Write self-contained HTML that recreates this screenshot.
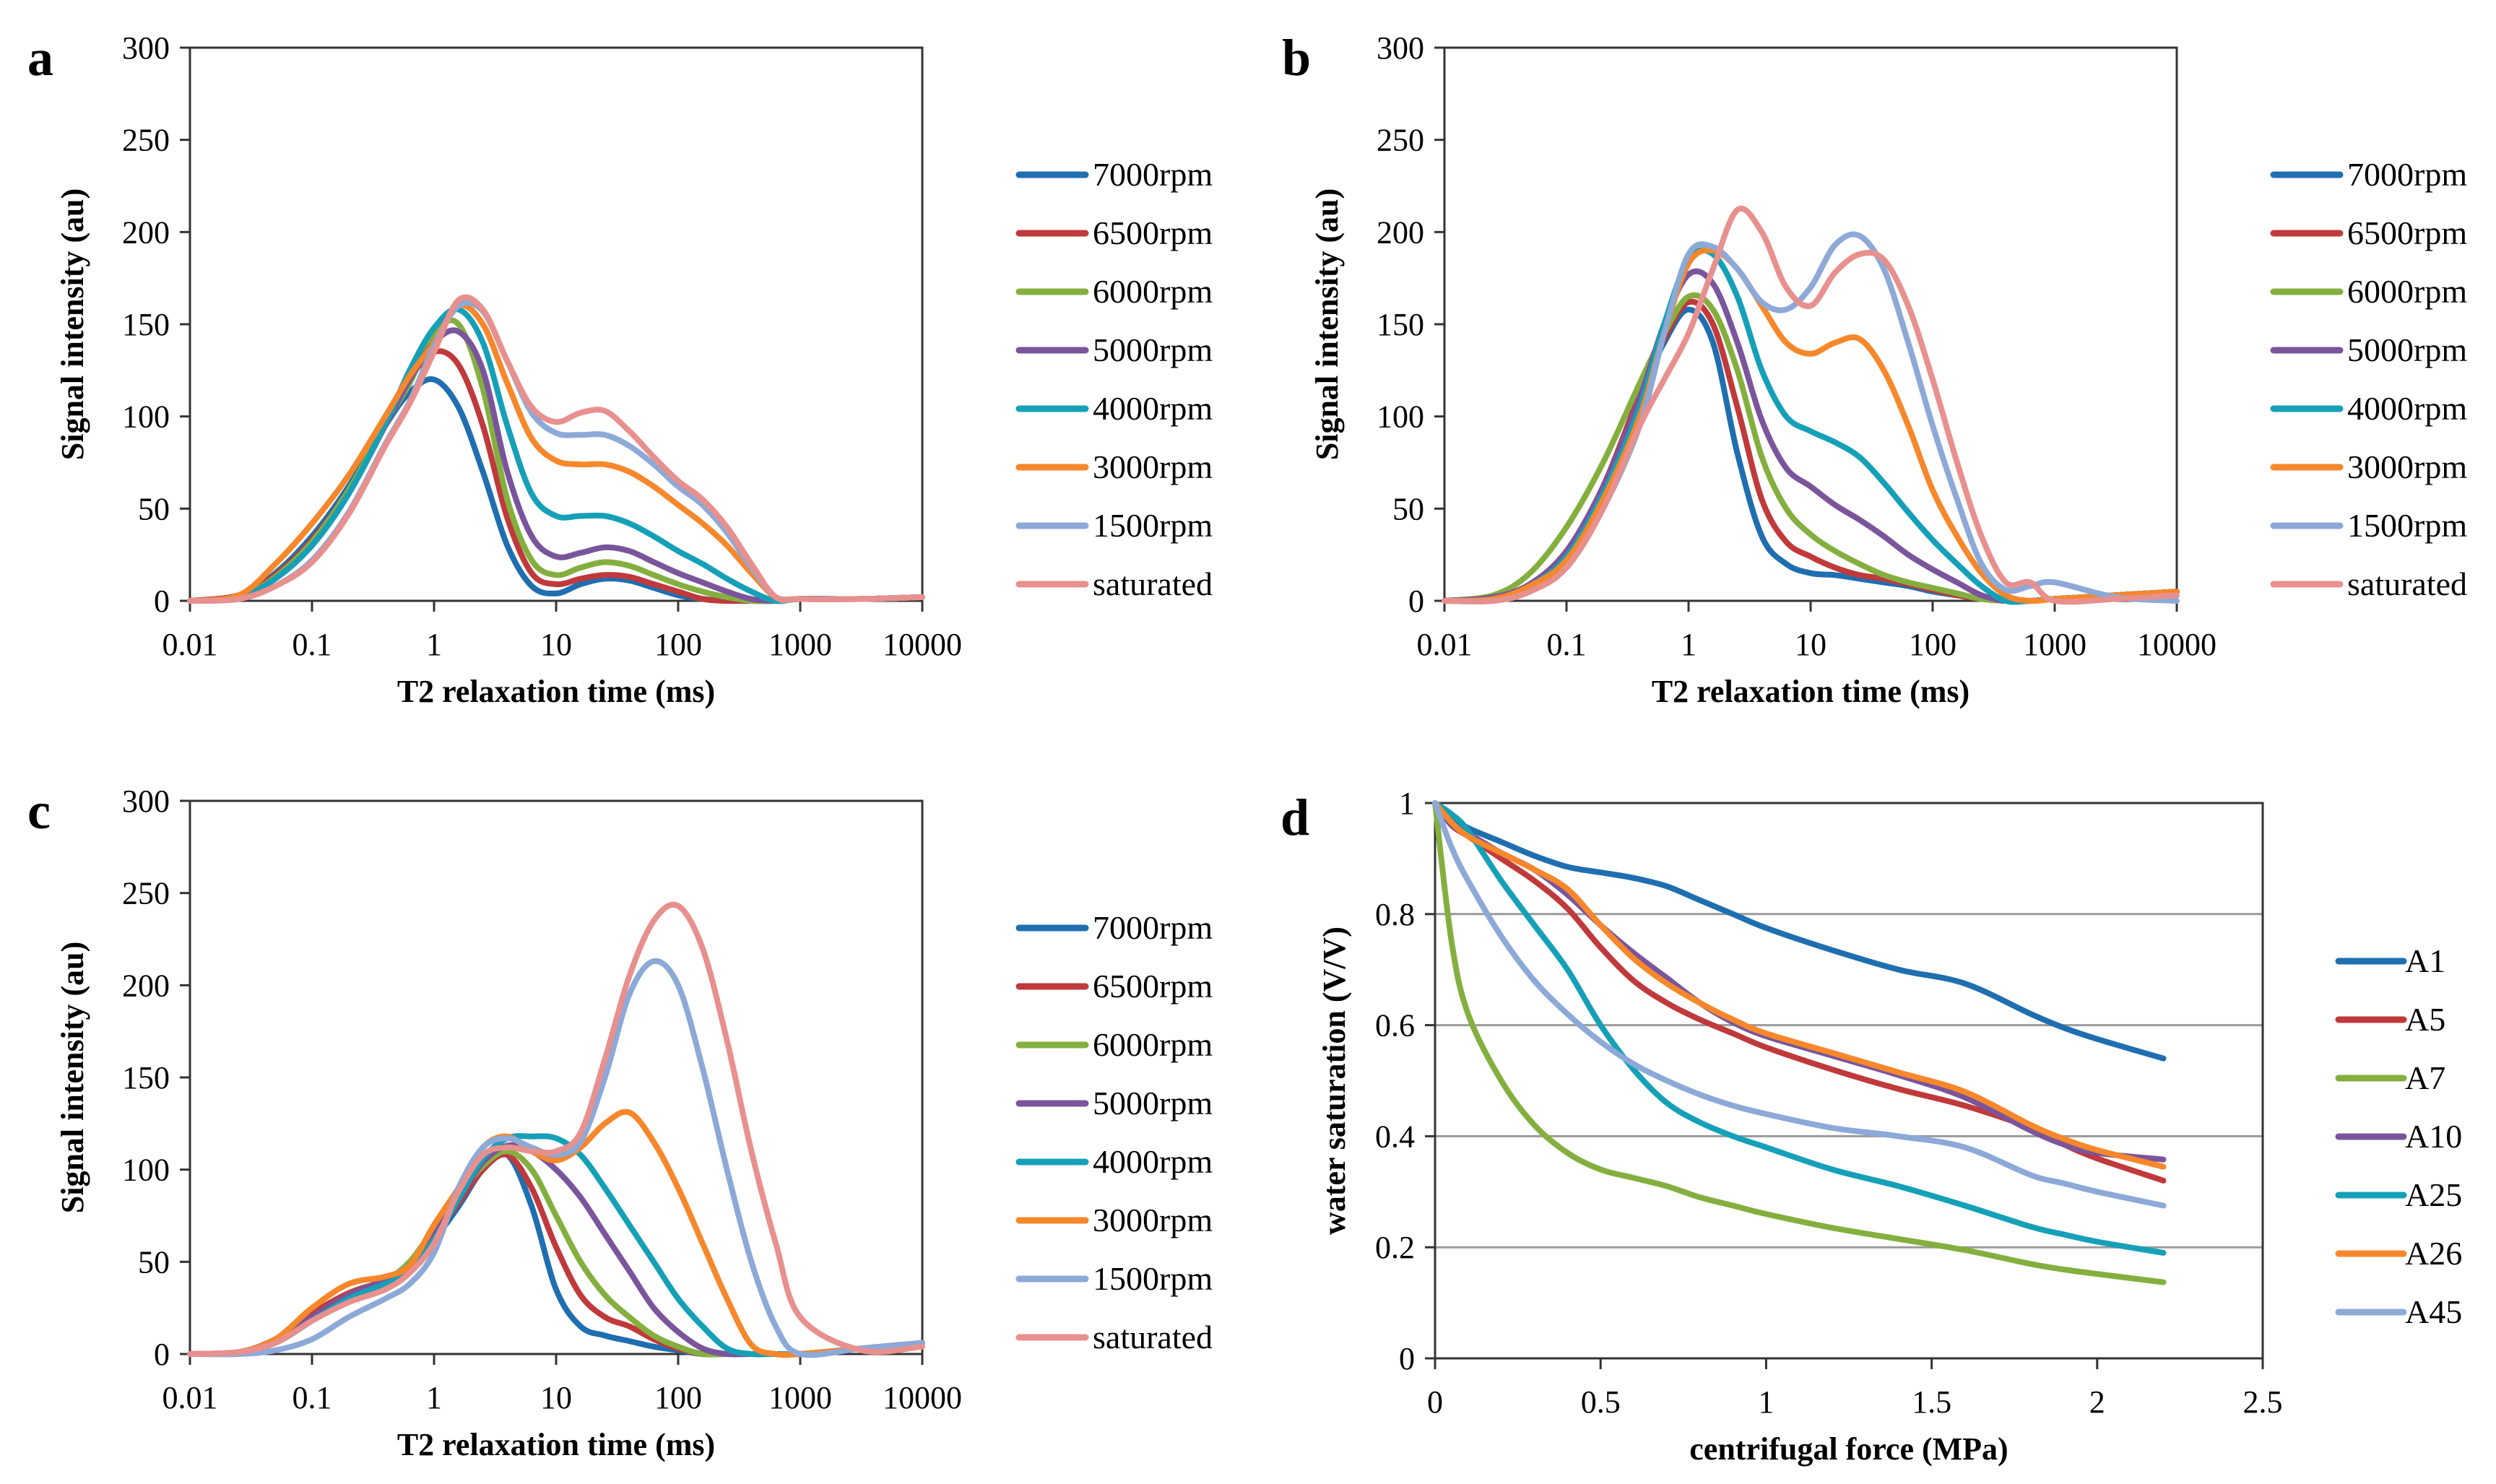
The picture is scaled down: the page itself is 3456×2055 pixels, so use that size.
<!DOCTYPE html>
<html><head><meta charset="utf-8">
<style>
html,body{margin:0;padding:0;background:#fff;}
svg{display:block;font-family:"Liberation Serif",serif;}
</style></head>
<body>
<svg id="fig" width="3456" height="2055" viewBox="0 0 3456 2055" xmlns="http://www.w3.org/2000/svg"></svg>
<script>
// ---- T2 panels data ----
const t2LogGrid = [-2,-1.6,-1.3,-1,-0.7,-0.4,-0.2,0,0.2,0.4,0.6,0.8,1,1.2,1.4,1.6,1.8,2,2.2,2.4,2.6,2.8,3,3.5,4];
const t2Series = ['7000rpm','6500rpm','6000rpm','5000rpm','4000rpm','3000rpm','1500rpm','saturated'];
const t2XTicks = ['0.01','0.1','1','10','100','1000','10000'];
const t2YTicks = [0,50,100,150,200,250,300];
const aValues = [
 [0,2,15,35,62,95,113,120,105,70,30,8,4,9,12,11,7,3,1,0,0,0,1,1,2],
 [0,3,14,33,60,95,120,135,128,95,45,15,9,12,14,13,9,5,1,0,0,0,1,1,2],
 [0,2,13,32,60,96,118,145,150,115,55,22,14,18,21,19,14,9,5,2,0,0,1,1,2],
 [0,2,12,30,58,95,120,140,146,125,70,35,24,26,29,27,21,15,10,5,1,0,1,1,2],
 [0,2,12,30,58,96,125,148,158,140,95,58,46,46,46,42,35,27,20,12,5,0,1,1,2],
 [0,3,20,42,68,100,122,140,160,150,118,88,76,74,74,70,62,52,42,30,15,2,1,1,2],
 [0,1,8,22,48,85,108,138,160,157,130,102,91,90,90,84,74,62,52,37,18,2,1,1,2],
 [0,1,8,21,47,84,107,135,163,158,130,105,97,102,103,92,78,65,55,40,20,2,1,1,2]
];
const bValues = [
 [0,2,8,25,60,110,140,158,140,80,35,20,15,14,12,10,8,5,3,1,0,0,1,3,5],
 [0,2,9,27,62,112,142,162,150,105,55,32,24,18,14,12,9,6,3,1,0,0,1,3,5],
 [0,3,15,40,75,118,145,165,158,125,78,50,36,27,20,14,10,7,4,1,0,0,1,3,5],
 [0,2,9,27,62,110,150,177,172,140,98,72,62,52,44,35,25,17,10,3,0,0,1,3,5],
 [0,1,8,24,58,105,150,185,188,165,125,100,92,86,78,64,48,33,20,8,0,0,1,3,5],
 [0,1,8,22,55,100,145,183,190,180,160,140,134,140,142,125,95,60,35,15,3,0,1,3,5],
 [0,0,5,18,50,95,145,188,192,180,162,158,170,193,198,180,140,95,55,20,6,8,10,2,0],
 [0,0,5,18,50,95,120,145,180,212,200,170,160,178,188,185,160,120,75,35,10,10,0,1,3]
];
const cValues = [
 [0,1,8,22,32,40,48,62,80,100,108,80,35,15,10,7,4,2,0,0,0,0,0,3,6],
 [0,1,8,22,33,40,48,64,82,100,108,90,58,32,20,15,8,3,0,0,0,0,0,3,6],
 [0,1,7,20,32,40,50,68,86,102,110,100,75,50,32,20,10,4,0,0,0,0,0,3,6],
 [0,1,7,20,32,40,48,65,84,104,113,110,100,85,65,45,25,12,3,0,0,0,0,3,6],
 [0,1,6,18,30,38,45,62,84,106,117,118,117,108,90,70,50,30,15,3,0,0,0,3,6],
 [0,1,8,25,38,42,48,70,90,112,118,110,105,112,125,131,115,90,60,30,5,0,0,3,6],
 [0,0,2,8,20,30,38,55,90,112,117,112,108,115,150,195,213,200,155,100,50,15,0,3,6],
 [0,1,6,18,28,35,44,60,88,108,112,110,110,120,160,205,235,243,220,170,110,60,20,2,4]
];
// ---- panel d data ----
const dForce = [0,0.05,0.1,0.2,0.3,0.4,0.5,0.6,0.7,0.8,0.9,1,1.2,1.4,1.6,1.8,1.9,2,2.2];
const dSeries = ['A1','A5','A7','A10','A25','A26','A45'];
const dValues = [
 [1,0.975,0.955,0.93,0.905,0.885,0.875,0.865,0.85,0.825,0.8,0.775,0.735,0.7,0.675,0.62,0.595,0.575,0.54],
 [1,0.96,0.94,0.9,0.86,0.81,0.74,0.68,0.64,0.61,0.585,0.56,0.52,0.485,0.455,0.415,0.385,0.36,0.32],
 [1,0.75,0.62,0.5,0.42,0.37,0.34,0.325,0.31,0.29,0.275,0.26,0.235,0.215,0.195,0.17,0.16,0.152,0.137],
 [1,0.96,0.945,0.91,0.88,0.835,0.78,0.73,0.685,0.64,0.605,0.58,0.545,0.51,0.47,0.41,0.385,0.37,0.358],
 [1,0.98,0.95,0.86,0.78,0.7,0.6,0.52,0.46,0.425,0.4,0.38,0.34,0.31,0.275,0.237,0.223,0.21,0.19],
 [1,0.965,0.94,0.91,0.88,0.845,0.78,0.72,0.675,0.64,0.61,0.585,0.55,0.515,0.48,0.42,0.395,0.375,0.345],
 [1,0.92,0.86,0.76,0.68,0.62,0.57,0.53,0.5,0.475,0.455,0.44,0.415,0.4,0.38,0.33,0.315,0.3,0.275]
];
const dXTicks = [0,0.5,1,1.5,2,2.5];
const dYTicks = [0,0.2,0.4,0.6,0.8,1];

const t2Colors = ['#1F6EB0','#C0393B','#84AF3F','#7A559C','#16A0B8','#F7872B','#8CA9D8','#E8908E'];
const dColors = ['#1F6EB0','#C0393B','#84AF3F','#7A559C','#16A0B8','#F7872B','#8CA9D8'];

const NS='http://www.w3.org/2000/svg';
const svg=document.getElementById('fig');
function mk(tag,attrs,parent){const e=document.createElementNS(NS,tag);for(const k in attrs)e.setAttribute(k,attrs[k]);(parent||svg).appendChild(e);return e;}
function txt(s,attrs,parent){const e=mk('text',attrs,parent);e.textContent=s;return e;}
function smoothPath(pts){
  let d='M'+pts[0][0].toFixed(1)+','+pts[0][1].toFixed(1);
  for(let i=0;i<pts.length-1;i++){
    const p0=pts[Math.max(0,i-1)],p1=pts[i],p2=pts[i+1],p3=pts[Math.min(pts.length-1,i+2)];
    const c1=[p1[0]+(p2[0]-p0[0])/6,p1[1]+(p2[1]-p0[1])/6];
    const c2=[p2[0]-(p3[0]-p1[0])/6,p2[1]-(p3[1]-p1[1])/6];
    d+=' C'+c1[0].toFixed(1)+','+c1[1].toFixed(1)+' '+c2[0].toFixed(1)+','+c2[1].toFixed(1)+' '+p2[0].toFixed(1)+','+p2[1].toFixed(1);
  }
  return d;
}

function drawT2(panel,letter,L,T,values){
  const R=L+1014,B=T+766;
  const g=mk('g',{});
  
  
  const xs=v=>L+(v+2)/6*(R-L);
  const ys=v=>B-v/300*(B-T);
  const lt=txt(letter,{x:L-225,y:T+38,'font-size':72,'font-weight':'bold'},g);
  
  
  const frame=mk('rect',{x:L,y:T,width:R-L,height:B-T,fill:'none',stroke:'#333','stroke-width':3},g);
  
  
  t2YTicks.forEach(v=>{
    mk('line',{x1:L-14,x2:L,y1:ys(v),y2:ys(v),stroke:'#333','stroke-width':3},g);
    const t=txt(String(v),{x:L-28,y:ys(v)+15,'font-size':44,'text-anchor':'end'},g);
    
    
  });
  t2XTicks.forEach((s,i)=>{
    const x=xs(i-2);
    mk('line',{x1:x,x2:x,y1:B,y2:B+15,stroke:'#333','stroke-width':3},g);
    const t=txt(s,{x:x,y:B+75,'font-size':44,'text-anchor':'middle'},g);
    
    
  });
  const xt=txt('T2 relaxation time (ms)',{x:(L+R)/2,y:B+140,'font-size':44,'font-weight':'bold','text-anchor':'middle'},g);
  
  
  const yt=txt('Signal intensity (au)',{x:0,y:0,'font-size':44,'font-weight':'bold','text-anchor':'middle',transform:'translate('+(L-148)+','+((T+B)/2)+') rotate(-90)'},g);
  
  
  values.forEach((arr,si)=>{
    const pts=arr.map((v,i)=>[xs(t2LogGrid[i]),ys(v)]);
    const p=mk('path',{d:smoothPath(pts),fill:'none',stroke:t2Colors[si],'stroke-width':8,'stroke-linejoin':'round','stroke-linecap':'round'},g);
    
    
  });
  t2Series.forEach((s,si)=>{
    const y=T+176+si*81;
    const ln=mk('line',{x1:L+1148,x2:L+1240,y1:y,y2:y,stroke:t2Colors[si],'stroke-width':9,'stroke-linecap':'round'},g);
    
    
    const t=txt(s,{x:L+1250,y:y+15,'font-size':46},g);
    
    
  });
}
drawT2('a','a',263,66,aValues);
drawT2('b','b',2000,66,bValues);
drawT2('c','c',263,1109,cValues);

(function(){
  const L=1987,T=1112,R=3133,B=1881;
  const g=mk('g',{});
  
  
  const xs=v=>L+v/2.5*(R-L);
  const ys=v=>B-v*(B-T);
  const lt=txt('d',{x:1773,y:T+44,'font-size':72,'font-weight':'bold'},g);
  
  
  dYTicks.forEach(v=>{
    if(v>0&&v<1){const gl=mk('line',{x1:L,x2:R,y1:ys(v),y2:ys(v),stroke:'#9a9a9a','stroke-width':3},g);
      
      }
    mk('line',{x1:L-14,x2:L,y1:ys(v),y2:ys(v),stroke:'#333','stroke-width':3},g);
    const t=txt(String(v),{x:L-28,y:ys(v)+15,'font-size':44,'text-anchor':'end'},g);
    
    
  });
  const frame=mk('rect',{x:L,y:T,width:R-L,height:B-T,fill:'none',stroke:'#333','stroke-width':3},g);
  
  
  dXTicks.forEach(v=>{
    mk('line',{x1:xs(v),x2:xs(v),y1:B,y2:B+15,stroke:'#333','stroke-width':3},g);
    const t=txt(String(v),{x:xs(v),y:B+75,'font-size':44,'text-anchor':'middle'},g);
    
    
  });
  const xt=txt('centrifugal force (MPa)',{x:(L+R)/2,y:B+140,'font-size':44,'font-weight':'bold','text-anchor':'middle'},g);
  
  
  const yt=txt('water saturation (V/V)',{x:0,y:0,'font-size':44,'font-weight':'bold','text-anchor':'middle',transform:'translate(1862,'+((T+B)/2)+') rotate(-90)'},g);
  
  
  dValues.forEach((arr,si)=>{
    const pts=arr.map((v,i)=>[xs(dForce[i]),ys(v)]);
    const p=mk('path',{d:smoothPath(pts),fill:'none',stroke:dColors[si],'stroke-width':8,'stroke-linejoin':'round','stroke-linecap':'round'},g);
    
    
  });
  dSeries.forEach((s,si)=>{
    const y=1331+si*81;
    const ln=mk('line',{x1:3238,x2:3328,y1:y,y2:y,stroke:dColors[si],'stroke-width':9,'stroke-linecap':'round'},g);
    
    
    const t=txt(s,{x:3330,y:y+15,'font-size':46},g);
    
    
  });
})();
</script>
</body></html>
